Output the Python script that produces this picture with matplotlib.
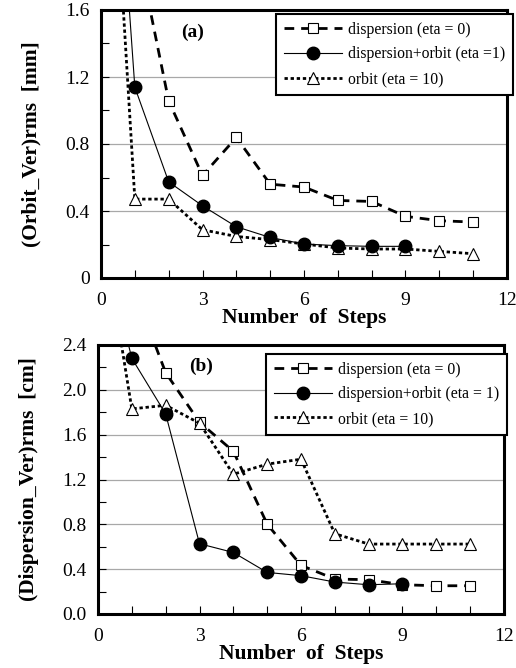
import matplotlib
matplotlib.use("Agg")
import matplotlib.pyplot as plt
from matplotlib.ticker import MultipleLocator, FormatStrFormatter

plt.rcParams['font.family'] = ['Liberation Serif', 'DejaVu Serif']

# ---- data (a) ----
a_disp_x = [1, 2, 3, 4, 5, 6, 7, 8, 9, 10, 11]
a_disp_y = [2.05, 1.057, 0.612, 0.839, 0.56, 0.543, 0.463, 0.457, 0.368, 0.342, 0.334]
a_both_x = [0, 1, 2, 3, 4, 5, 6, 7, 8, 9]
a_both_y = [4.0, 1.139, 0.574, 0.431, 0.306, 0.242, 0.203, 0.193, 0.189, 0.189]
a_orb_x = [0, 1, 2, 3, 4, 5, 6, 7, 8, 9, 10, 11]
a_orb_y = [3.8, 0.471, 0.471, 0.288, 0.248, 0.229, 0.203, 0.179, 0.173, 0.173, 0.159, 0.145]

# ---- data (b) ----
b_disp_x = [1, 2, 3, 4, 5, 6, 7, 8, 9, 10, 11]
b_disp_y = [2.95, 2.153, 1.711, 1.452, 0.802, 0.434, 0.312, 0.306, 0.261, 0.252, 0.252]
b_both_x = [0, 1, 2, 3, 4, 5, 6, 7, 8, 9]
b_both_y = [3.5, 2.281, 1.785, 0.627, 0.549, 0.371, 0.342, 0.285, 0.261, 0.27]
b_orb_x = [0, 1, 2, 3, 4, 5, 6, 7, 8, 9, 10, 11]
b_orb_y = [3.7, 1.83, 1.862, 1.702, 1.247, 1.337, 1.381, 0.716, 0.624, 0.624, 0.624, 0.624]

a_labels = ["dispersion (eta = 0)", "dispersion+orbit (eta =1)", "orbit (eta = 10)"]
b_labels = ["dispersion (eta = 0)", "dispersion+orbit (eta = 1)", "orbit (eta = 10)"]

W, H = 516, 668
fig = plt.figure(figsize=(W / 100, H / 100), dpi=100)

def px_axes(l, r, t, b):
    return fig.add_axes([l / W, 1 - b / H, (r - l) / W, (b - t) / H])

ax1 = px_axes(101, 507, 10, 278)
ax2 = px_axes(98, 504, 345, 614)

def style(ax, ymax, ymaj, ymin, fmt, ylabel, tag, tagpos, series, labels, legpos):
    (dx, dy), (bx, by), (ox, oy) = series
    ax.plot(dx, dy, color='black', ls=(0, (3.5, 2.5)), lw=2.0, marker='s', ms=7.5,
            mfc='white', mec='black', mew=0.8, label=labels[0], zorder=3)
    ax.plot(bx, by, color='black', ls='-', lw=0.8, marker='o', ms=9,
            mfc='black', mec='black', label=labels[1], zorder=4)
    ax.plot(ox, oy, color='black', ls=(0, (1.2, 1.0)), lw=2.0, marker='^', ms=8.5,
            mfc='white', mec='black', mew=0.8, label=labels[2], zorder=3)
    ax.set_xlim(0, 12)
    ax.set_ylim(0, ymax)
    ax.xaxis.set_major_locator(MultipleLocator(3))
    ax.xaxis.set_minor_locator(MultipleLocator(1))
    ax.yaxis.set_major_locator(MultipleLocator(ymaj))
    ax.yaxis.set_minor_locator(MultipleLocator(ymin))
    ax.yaxis.set_major_formatter(FormatStrFormatter(fmt))
    ax.tick_params(which='both', direction='in', labelsize=14, top=False, right=False)
    ax.tick_params(which='major', length=6, width=0.8, pad=8)
    ax.tick_params(which='minor', length=6, width=0.8)
    ax.tick_params(axis='x', which='major', pad=10)
    ax.grid(True, axis='y', which='major', color='#a8a8a8', lw=0.9, zorder=0)
    for s in ax.spines.values():
        s.set_linewidth(2.2)
    ax.set_ylabel(ylabel, fontsize=15.5, fontweight='bold', labelpad=17)
    ax.set_xlabel("Number  of  Steps", fontsize=15.5, fontweight='bold', labelpad=-1)
    ax.text(tagpos[0], tagpos[1], tag, transform=ax.transAxes, fontsize=14,
            fontweight='bold', ha='center', va='center')
    leg = ax.legend(loc='upper right', bbox_to_anchor=legpos, fontsize=11.3,
                    frameon=True, fancybox=False, shadow=False, framealpha=1,
                    edgecolor='black', handlelength=3.7, labelspacing=0.55,
                    borderpad=0.5, handletextpad=0.4, borderaxespad=0)
    leg.get_frame().set_linewidth(1.5)
    leg.set_zorder(10)

style(ax1, 1.6, 0.4, 0.2, '%g', "(Orbit_Ver)rms  [mm]", "(a)", (0.225, 0.915),
      [(a_disp_x, a_disp_y), (a_both_x, a_both_y), (a_orb_x, a_orb_y)], a_labels,
      (1.015, 0.985))
style(ax2, 2.4, 0.4, 0.2, '%.1f', "(Dispersion_Ver)rms  [cm]", "(b)", (0.255, 0.92),
      [(b_disp_x, b_disp_y), (b_both_x, b_both_y), (b_orb_x, b_orb_y)], b_labels,
      (1.008, 0.967))

fig.savefig("out.png", dpi=100)
